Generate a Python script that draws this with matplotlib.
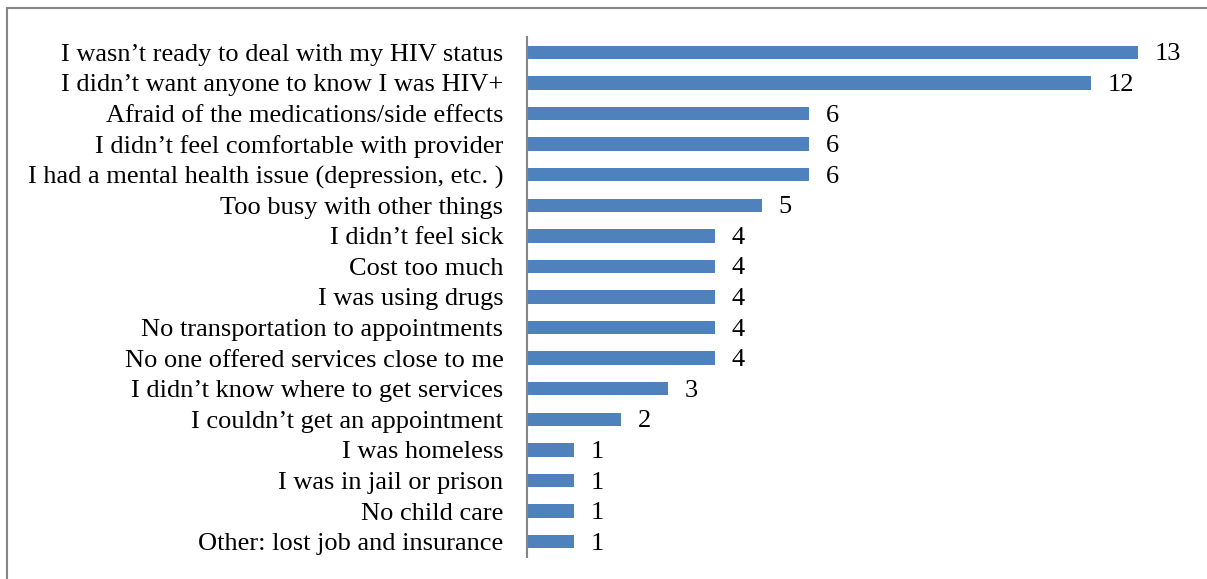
import matplotlib.pyplot as plt
from matplotlib.patches import Rectangle

# reasons for not getting into care, number of respondents
reasons = [
    "I wasn\u2019t ready to deal with my HIV status",
    "I didn\u2019t want anyone to know I was HIV+",
    "Afraid of the medications/side effects",
    "I didn\u2019t feel comfortable with provider",
    "I had a mental health issue (depression, etc. )",
    "Too busy with other things",
    "I didn\u2019t feel sick",
    "Cost too much",
    "I was using drugs",
    "No transportation to appointments",
    "No one offered services close to me",
    "I didn\u2019t know where to get services",
    "I couldn\u2019t get an appointment",
    "I was homeless",
    "I was in jail or prison",
    "No child care",
    "Other: lost job and insurance",
]
counts = [13, 12, 6, 6, 6, 5, 4, 4, 4, 4, 4, 3, 2, 1, 1, 1, 1]

plt.rcParams['font.family'] = ['Liberation Serif', 'DejaVu Serif']

fig = plt.figure(figsize=(12.07, 5.79), dpi=100)
ax = fig.add_axes([527 / 1207, 1 - 557 / 579, 658 / 1207, 520 / 579])

ypos = list(range(len(reasons)))[::-1]
ax.barh(ypos, counts, height=0.44, color='#4F81BD', zorder=2)

for y, v in zip(ypos, counts):
    ax.annotate(str(v), (v, y), xytext=(12, -1.5), textcoords='offset points',
                va='center', ha='left', fontsize=19)

ax.set_xlim(0, 14)
ax.set_ylim(-0.5, len(reasons) - 0.5)
ax.set_yticks(ypos)
ax.set_yticklabels(reasons, fontsize=19)
ax.set_xticks([])
ax.tick_params(axis='y', length=0, pad=17)

for side in ['top', 'right', 'bottom']:
    ax.spines[side].set_visible(False)
ax.spines['left'].set_color('#868686')
ax.spines['left'].set_linewidth(1.5)

# chart frame, only left and top edges fall inside the canvas
fig.patches.append(Rectangle((6.5 / 1207, -0.1), 1.2, 1.1 - 7.5 / 579,
                             transform=fig.transFigure, fill=False,
                             edgecolor='#868686', linewidth=1.5))

fig.savefig('out.png', dpi=100)
